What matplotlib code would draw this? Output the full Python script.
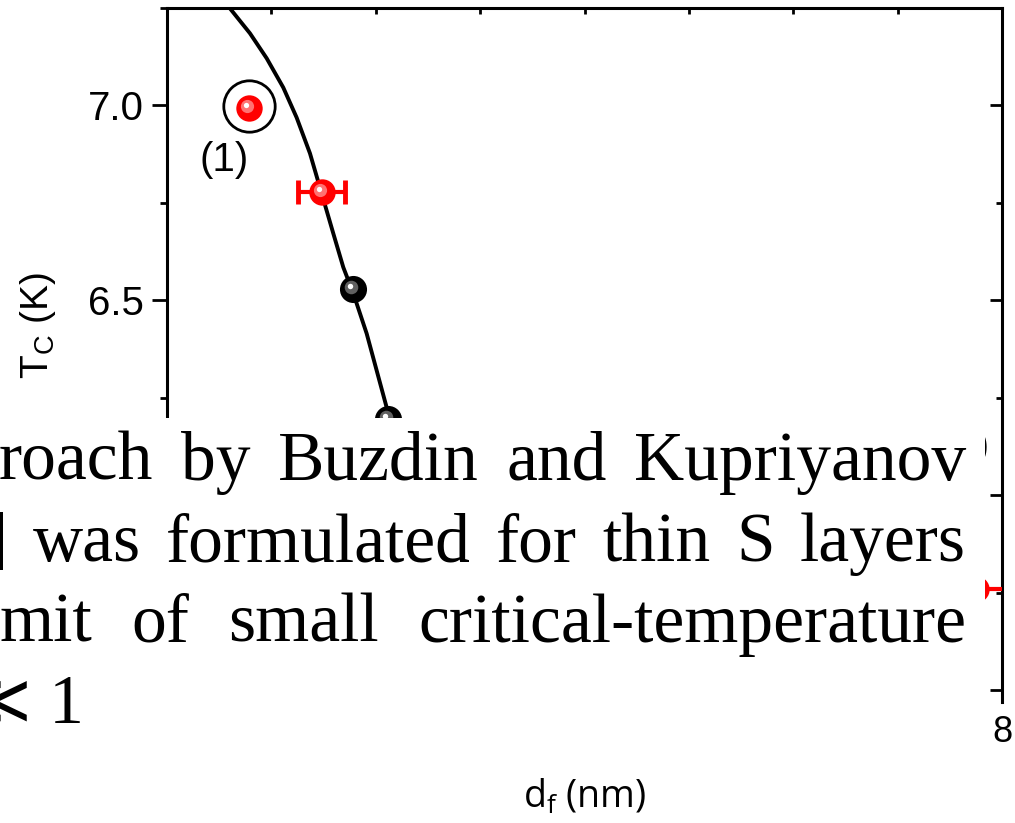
import matplotlib
matplotlib.use('Agg')
import matplotlib.pyplot as plt
from matplotlib.patches import Rectangle
from matplotlib.ticker import MultipleLocator, FormatStrFormatter
from matplotlib.transforms import offset_copy

plt.rcParams['font.family'] = ['Liberation Sans', 'DejaVu Sans']
plt.rcParams['mathtext.default'] = 'regular'

# theory curve Tc(df)
curve_df = [0.45, 0.603, 0.795, 0.955, 1.114, 1.242, 1.370, 1.482, 1.593, 1.689, 1.785, 1.913, 2.104, 2.30]
curve_tc = [7.29, 7.249, 7.185, 7.121, 7.046, 6.969, 6.877, 6.774, 6.672, 6.585, 6.518, 6.415, 6.226, 6.03]

# measured samples
red_df = [0.79, 1.482, 7.75]
red_tc = [6.994, 6.779, 5.76]
red_xerr = [0.0, 0.223, 0.30]
black_df = [1.785, 2.12]
black_tc = [6.530, 6.195]

# sample (1) is ringed and labelled
ring_df, ring_tc = 0.79, 6.998
label1_df, label1_tc = 0.546, 6.859
label2_df, label2_tc = 7.88, 6.125

# paragraph lines of the page text laid over the figure
para_lines = [
    ['roach', 'by', 'Buzdin', 'and', 'Kupriyanov'],
    [']', 'was', 'formulated', 'for', 'thin', 'S', 'layers'],
    ['mit', 'of', 'small', 'critical-temperature'],
]
para_last = '\u226a 1'

W, H = 1015, 823
fig, ax = plt.subplots(figsize=(W / 100, H / 100), dpi=100)
fig.subplots_adjust(left=167 / W, right=1002 / W, top=1 - 8 / H, bottom=1 - 702 / H)

ax.plot(curve_df, curve_tc, color='black', lw=2.8, zorder=2)


def sphere(x, y, base, mid, size):
    ax.plot(x, y, 'o', ms=size, color=base, mew=0, zorder=4)
    t1 = offset_copy(ax.transData, fig=fig, x=-2, y=2, units='dots')
    ax.plot(x, y, 'o', ms=size * 0.5, color=mid, mew=0, alpha=0.8, transform=t1, zorder=5)
    t2 = offset_copy(ax.transData, fig=fig, x=-3, y=3, units='dots')
    ax.plot(x, y, 'o', ms=size * 0.2, color='white', mew=0, transform=t2, zorder=6)


for x, y, e in zip(red_df, red_tc, red_xerr):
    if e > 0:
        ax.errorbar(x, y, xerr=e, fmt='none', ecolor='#ff0000', elinewidth=3,
                    capsize=8.5, capthick=3.5, zorder=3)
    sphere(x, y, '#ff0000', '#ff9090', 19)

for x, y in zip(black_df, black_tc):
    sphere(x, y, '#000000', '#7a7a7a', 19.5)

ax.plot(ring_df, ring_tc, 'o', ms=37, mfc='none', mec='black', mew=2, zorder=3)
ax.text(label1_df, label1_tc, '(1)', fontsize=29, ha='center', va='center')
ax.text(label2_df, label2_tc, '(2)', fontsize=29, ha='right', va='center')

ax.set_xlim(0, 8)
ax.set_ylim(5.47, 7.25)
ax.xaxis.set_major_locator(MultipleLocator(2))
ax.xaxis.set_minor_locator(MultipleLocator(1))
ax.yaxis.set_major_locator(MultipleLocator(0.5))
ax.yaxis.set_minor_locator(MultipleLocator(0.25))
ax.yaxis.set_major_formatter(FormatStrFormatter('%.1f'))

for side in ['left', 'right', 'top']:
    ax.spines[side].set_linewidth(2.2)
ax.spines['bottom'].set_visible(False)

ax.tick_params(axis='y', which='major', direction='out', length=10.8, width=2,
               labelsize=29, pad=6, right=False)
ax.tick_params(axis='y', which='minor', direction='out', length=5, width=2, right=False)
ax.tick_params(axis='x', which='both', direction='in', length=4, width=2,
               top=True, labelsize=26, pad=9)

ax2 = ax.twinx()
ax2.set_ylim(ax.get_ylim())
ax2.yaxis.set_major_locator(MultipleLocator(0.5))
ax2.yaxis.set_minor_locator(MultipleLocator(0.25))
ax2.tick_params(axis='y', which='major', direction='in', length=8.6, width=2, labelright=False)
ax2.tick_params(axis='y', which='minor', direction='in', length=4.3, width=2)
for s in ax2.spines.values():
    s.set_visible(False)

ax.set_xlabel('d$_f$ (nm)', fontsize=27, family=['Open Sans', 'DejaVu Sans'])
ax.xaxis.set_label_coords(0.5, -0.108)
ax.set_ylabel('T$_C$ (K)', fontsize=28)
ax.yaxis.set_label_coords(-0.131, 0.543)

# white page block with justified serif text on top of the plot
fig.add_artist(Rectangle((0, 1 - 760 / H), 985 / W, (760 - 418) / H,
                         transform=fig.transFigure, facecolor='white',
                         edgecolor='none', zorder=5))

serif = ['Liberation Serif', 'DejaVu Serif', 'DejaVu Sans']
renderer = fig.canvas.get_renderer()


def justified(words, x0, x1, baseline):
    items = [fig.text(0, 0, w, fontsize=50, family=serif, ha='left',
                      va='baseline', zorder=6) for w in words]
    widths = [t.get_window_extent(renderer).width for t in items]
    gap = (x1 - x0 - sum(widths)) / (len(words) - 1)
    x = x0
    for t, w in zip(items, widths):
        t.set_position((x / W, 1 - baseline / H))
        x += w + gap


justified(para_lines[0], -1, 966, 480)
justified(para_lines[1], -16, 966, 561)
justified(para_lines[2], -1, 966, 642)
fig.text(84 / W, 1 - 723 / H, para_last, fontsize=50, family=serif,
         ha='right', va='baseline', zorder=6)

fig.savefig('out.png', dpi=100)
